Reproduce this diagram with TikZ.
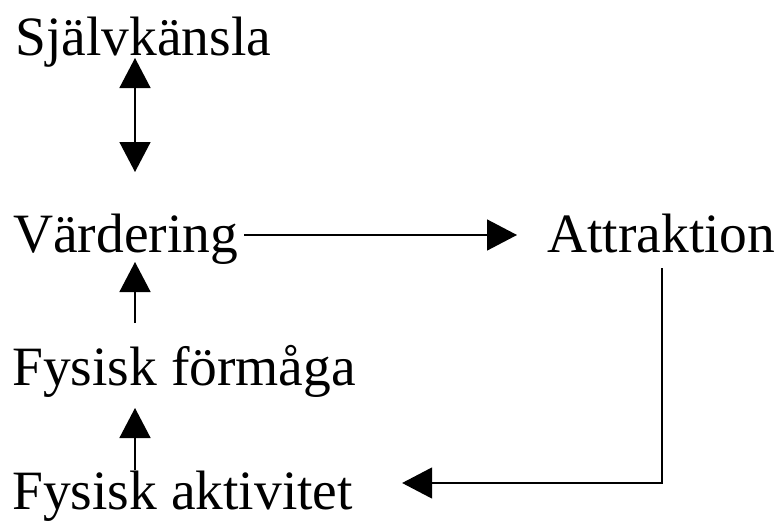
\documentclass[tikz,border=0pt]{standalone}
\usepackage{fontspec}
\setmainfont{Liberation Serif}
\usetikzlibrary{arrows.meta,calc}
\tikzset{
  lbl/.style={anchor=base west, inner sep=0pt, font=\fontsize{55.5}{60}\selectfont},
  conn/.style={line width=1.5pt, -{Triangle[width=31pt,length=30pt]}},
  conn2/.style={line width=1.5pt, {Triangle[width=31pt,length=30pt]}-{Triangle[width=31pt,length=30pt]}}
}
\begin{document}
\begin{tikzpicture}[x=1pt,y=-1pt]
\useasboundingbox (0,0) rectangle (782,522);
\node[lbl] (sj) at (15,55) {Självkänsla};
\node[lbl] (va) at (13,252) {Värdering};
\node[lbl] (at) at (547,252) {Attraktion};
\node[lbl] (ff) at (12,385) {Fysisk förmåga};
\node[lbl] (fa) at (12,509) {Fysisk aktivitet};
\draw[conn2] ($(sj.base west)+(120pt,-3pt)$) -- ($(va.base west)+(122pt,80pt)$);
\draw[conn] ($(va.base east)+(6pt,17pt)$) -- ($(at.base west)+(-30pt,17pt)$);
\draw[conn] ($(ff.base west)+(123pt,62pt)$) -- ($(va.base west)+(122pt,-10pt)$);
\draw[conn] ($(fa.base west)+(123pt,39pt)$) -- ($(ff.base west)+(123pt,-23pt)$);
\draw[conn] ($(at.base west)+(115pt,-16pt)$) |- ($(fa.base east)+(49pt,26pt)$);
\end{tikzpicture}
\end{document}
